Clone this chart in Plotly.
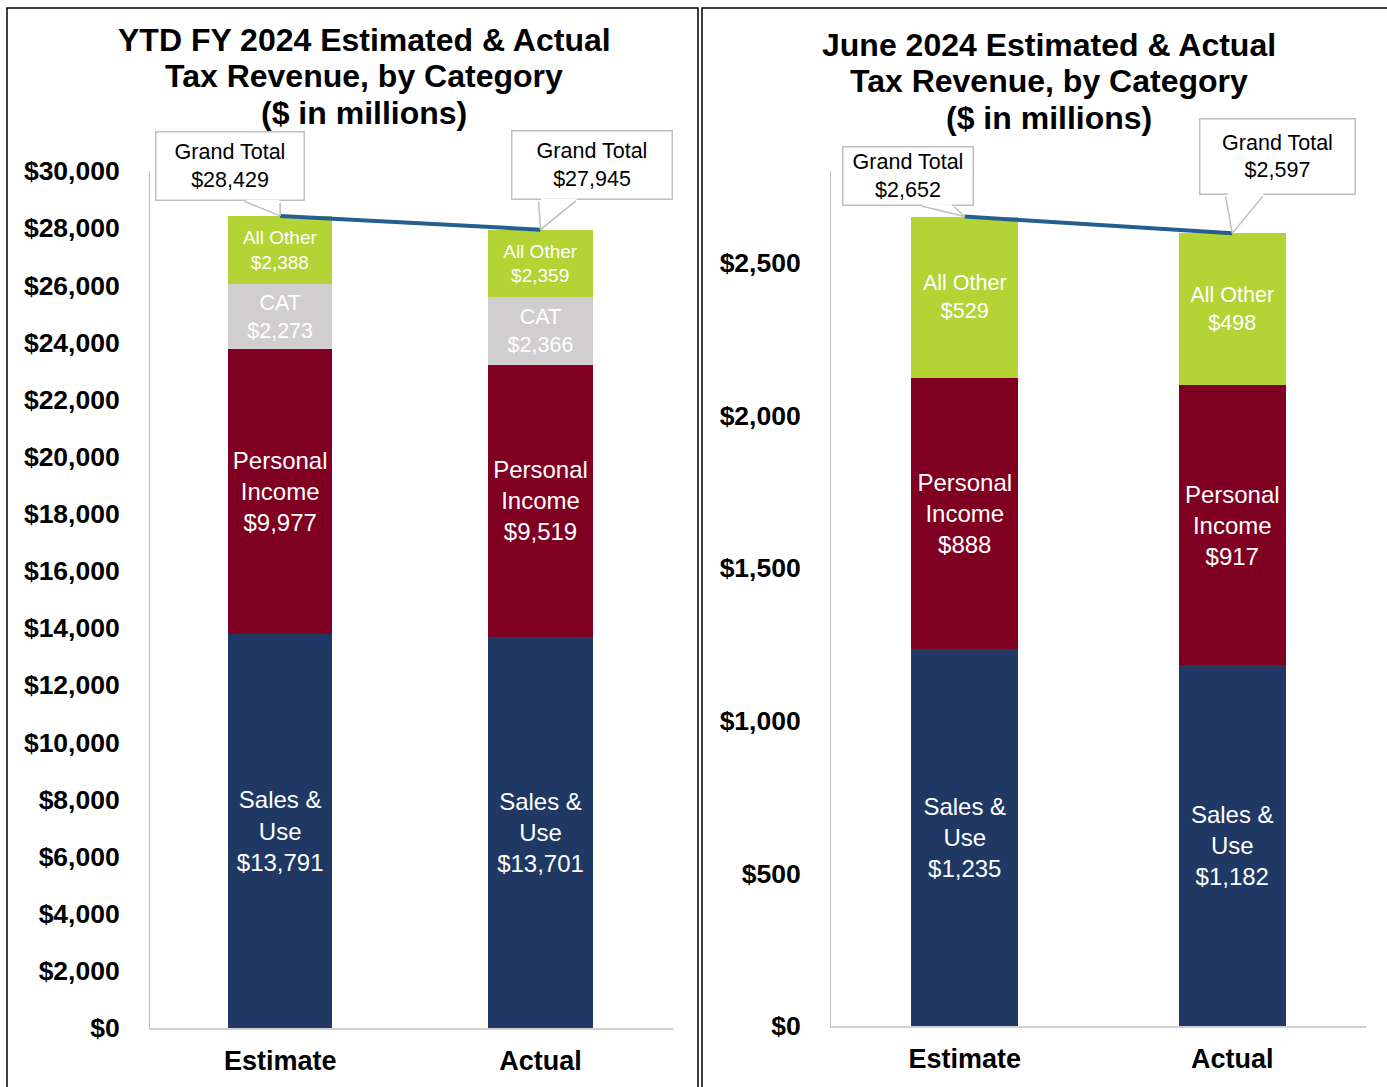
import plotly.graph_objects as go

W, H = 1387, 1087

# ---------------- data ----------------
categories = ["Estimate", "Actual"]

ytd_sales_use = [13791, 13701]
ytd_personal_income = [9977, 9519]
ytd_cat = [2273, 2366]
ytd_all_other = [2388, 2359]

june_sales_use = [1235, 1182]
june_personal_income = [888, 917]
june_all_other = [529, 498]

ytd_ticks = list(range(0, 30001, 2000))
june_ticks = list(range(0, 2501, 500))

ytd_title = ["YTD FY 2024 Estimated & Actual", "Tax Revenue, by Category", "($ in millions)"]
june_title = ["June 2024 Estimated & Actual", "Tax Revenue, by Category", "($ in millions)"]

# ---------------- styles ----------------
FONT = "Arial, 'Liberation Sans', sans-serif"
NAVY = "#203864"
MAROON = "#800022"
GRAY = "#D0CECE"
LIME = "#B4D335"
LINE = "#255E91"
CALLOUT = "#BFBFBF"


def money(v):
    return "${:,.0f}".format(v)


fig = go.Figure()


def add_bar(name, vals, color, xa, ya, size, label):
    fig.add_trace(go.Bar(
        x=categories, y=vals, name=name, marker=dict(color=color, line=dict(width=0)),
        xaxis=xa, yaxis=ya, width=0.4,
        text=[label + "<br>" + money(v) for v in vals],
        textposition="inside", insidetextanchor="middle", textangle=0,
        constraintext="none",
        textfont=dict(family=FONT, size=size, color="white"),
        hoverinfo="skip", showlegend=False,
    ))


# Left (YTD)
add_bar("Sales & Use", ytd_sales_use, NAVY, "x", "y", 24, "Sales &<br>Use")
add_bar("Personal Income", ytd_personal_income, MAROON, "x", "y", 24, "Personal<br>Income")
add_bar("CAT", ytd_cat, GRAY, "x", "y", 21.5, "CAT")
add_bar("All Other", ytd_all_other, LIME, "x", "y", 19, "All Other")
ytd_total = [a + b + c + d for a, b, c, d in zip(ytd_sales_use, ytd_personal_income, ytd_cat, ytd_all_other)]
fig.add_trace(go.Scatter(x=categories, y=ytd_total, mode="lines", line=dict(color=LINE, width=4),
                         xaxis="x", yaxis="y", hoverinfo="skip", showlegend=False))

# Right (June)
add_bar("Sales & Use", june_sales_use, NAVY, "x2", "y2", 24, "Sales &<br>Use")
add_bar("Personal Income", june_personal_income, MAROON, "x2", "y2", 24, "Personal<br>Income")
add_bar("All Other", june_all_other, LIME, "x2", "y2", 21.5, "All Other")
june_total = [a + b + c for a, b, c in zip(june_sales_use, june_personal_income, june_all_other)]
fig.add_trace(go.Scatter(x=categories, y=june_total, mode="lines", line=dict(color=LINE, width=4),
                         xaxis="x2", yaxis="y2", hoverinfo="skip", showlegend=False))


def px_x(p):
    return p / W


def px_y(p):
    return 1 - p / H


axis_common_x = dict(
    showgrid=False, zeroline=False, showline=True, linecolor="#D0D0D0", linewidth=2,
    tickfont=dict(family=FONT, size=27, color="black", weight="bold"),
    ticks="", ticklabelstandoff=8, fixedrange=True, automargin=False,
)
axis_common_y = dict(
    showgrid=False, zeroline=False, showline=True, linecolor="#C0C0C0", linewidth=1,
    tickfont=dict(family=FONT, size=26.5, color="black", weight="bold"),
    ticks="", ticklabelstandoff=24, fixedrange=True, automargin=False,
)

fig.update_layout(
    width=W, height=H, margin=dict(l=0, r=0, t=0, b=0, pad=0, autoexpand=False),
    paper_bgcolor="white", plot_bgcolor="white", barmode="stack",
    xaxis=dict(domain=[px_x(150), px_x(673)], anchor="y", **axis_common_x),
    yaxis=dict(domain=[px_y(1028), px_y(171)], anchor="x", range=[0, 30000],
               tickvals=ytd_ticks, ticktext=[money(v) for v in ytd_ticks], **axis_common_y),
    xaxis2=dict(domain=[px_x(831), px_x(1366)], anchor="y2", **axis_common_x),
    yaxis2=dict(domain=[px_y(1026), px_y(171.4)], anchor="x2", range=[0, 2800],
                tickvals=june_ticks, ticktext=[money(v) for v in june_ticks], **axis_common_y),
)

# ---------------- titles ----------------
anns = []
for i, line in enumerate(ytd_title):
    anns.append(dict(xref="paper", yref="paper", x=px_x(364), y=px_y([40, 76, 113][i]),
                     xanchor="center", yanchor="middle", showarrow=False, text=line,
                     font=dict(family=FONT, size=32, color="black", weight="bold")))
for i, line in enumerate(june_title):
    anns.append(dict(xref="paper", yref="paper", x=px_x(1049), y=px_y([45, 81, 118][i]),
                     xanchor="center", yanchor="middle", showarrow=False, text=line,
                     font=dict(family=FONT, size=32, color="black", weight="bold")))

# ---------------- callouts ----------------
# (xaxis, yaxis, category, total, box left, box right, box bottom, box top, tail base left, tail base right)
# offsets in pixels relative to the bar top (up = positive)
callouts = [
    ("x", "y", categories[0], ytd_total[0], -125, 24, 15, 84, -37, 0),
    ("x", "y", categories[1], ytd_total[1], -29, 132, 30, 99, -2, 37),
    ("x2", "y2", categories[0], june_total[0], -122, 9, 11, 70, -45, -12),
    ("x2", "y2", categories[1], june_total[1], -33, 123, 39, 115, -7, 32),
]
for xa, ya, cat, tot, l, r, b, t, tl, tr in callouts:
    # box with text
    anns.append(dict(xref=xa, yref=ya, x=cat, y=tot, xshift=(l + r) / 2, yshift=(b + t) / 2,
                     xanchor="center", yanchor="middle", showarrow=False,
                     width=r - l - 2, height=t - b - 2, borderpad=0, borderwidth=1.5,
                     bordercolor=CALLOUT, bgcolor="white", align="center", valign="middle",
                     text="Grand Total<br>" + money(tot),
                     font=dict(family=FONT, size=21.5, color="black")))
    # open the box bottom where the tail joins
    anns.append(dict(xref=xa, yref=ya, x=cat, y=tot, xshift=tr - 1, yshift=b,
                     ax=tl - tr + 2, ay=0, showarrow=True, arrowhead=0, arrowwidth=2.5,
                     arrowcolor="white", standoff=0, startstandoff=0, text=" ",
                     font=dict(size=1)))
    # tail lines
    for base in (tl, tr):
        anns.append(dict(xref=xa, yref=ya, x=cat, y=tot, ax=base, ay=-b,
                         showarrow=True, arrowhead=0, arrowwidth=1.5, arrowcolor=CALLOUT,
                         standoff=0, startstandoff=0, text=" ", font=dict(size=1)))

# ---------------- panel borders ----------------
shapes = [
    dict(type="rect", xref="paper", yref="paper", x0=px_x(7), x1=px_x(698),
         y0=px_y(1100), y1=px_y(8), line=dict(color="black", width=1.5), layer="below"),
    dict(type="rect", xref="paper", yref="paper", x0=px_x(702), x1=px_x(1400),
         y0=px_y(1100), y1=px_y(8), line=dict(color="black", width=1.5), layer="below"),
]

fig.update_layout(annotations=anns, shapes=shapes)

fig.write_html(
    "out.html",
    config={"displayModeBar": False},
    post_script="document.body.style.margin='0';document.body.style.padding='0';"
                "document.body.style.overflow='hidden';",
)
